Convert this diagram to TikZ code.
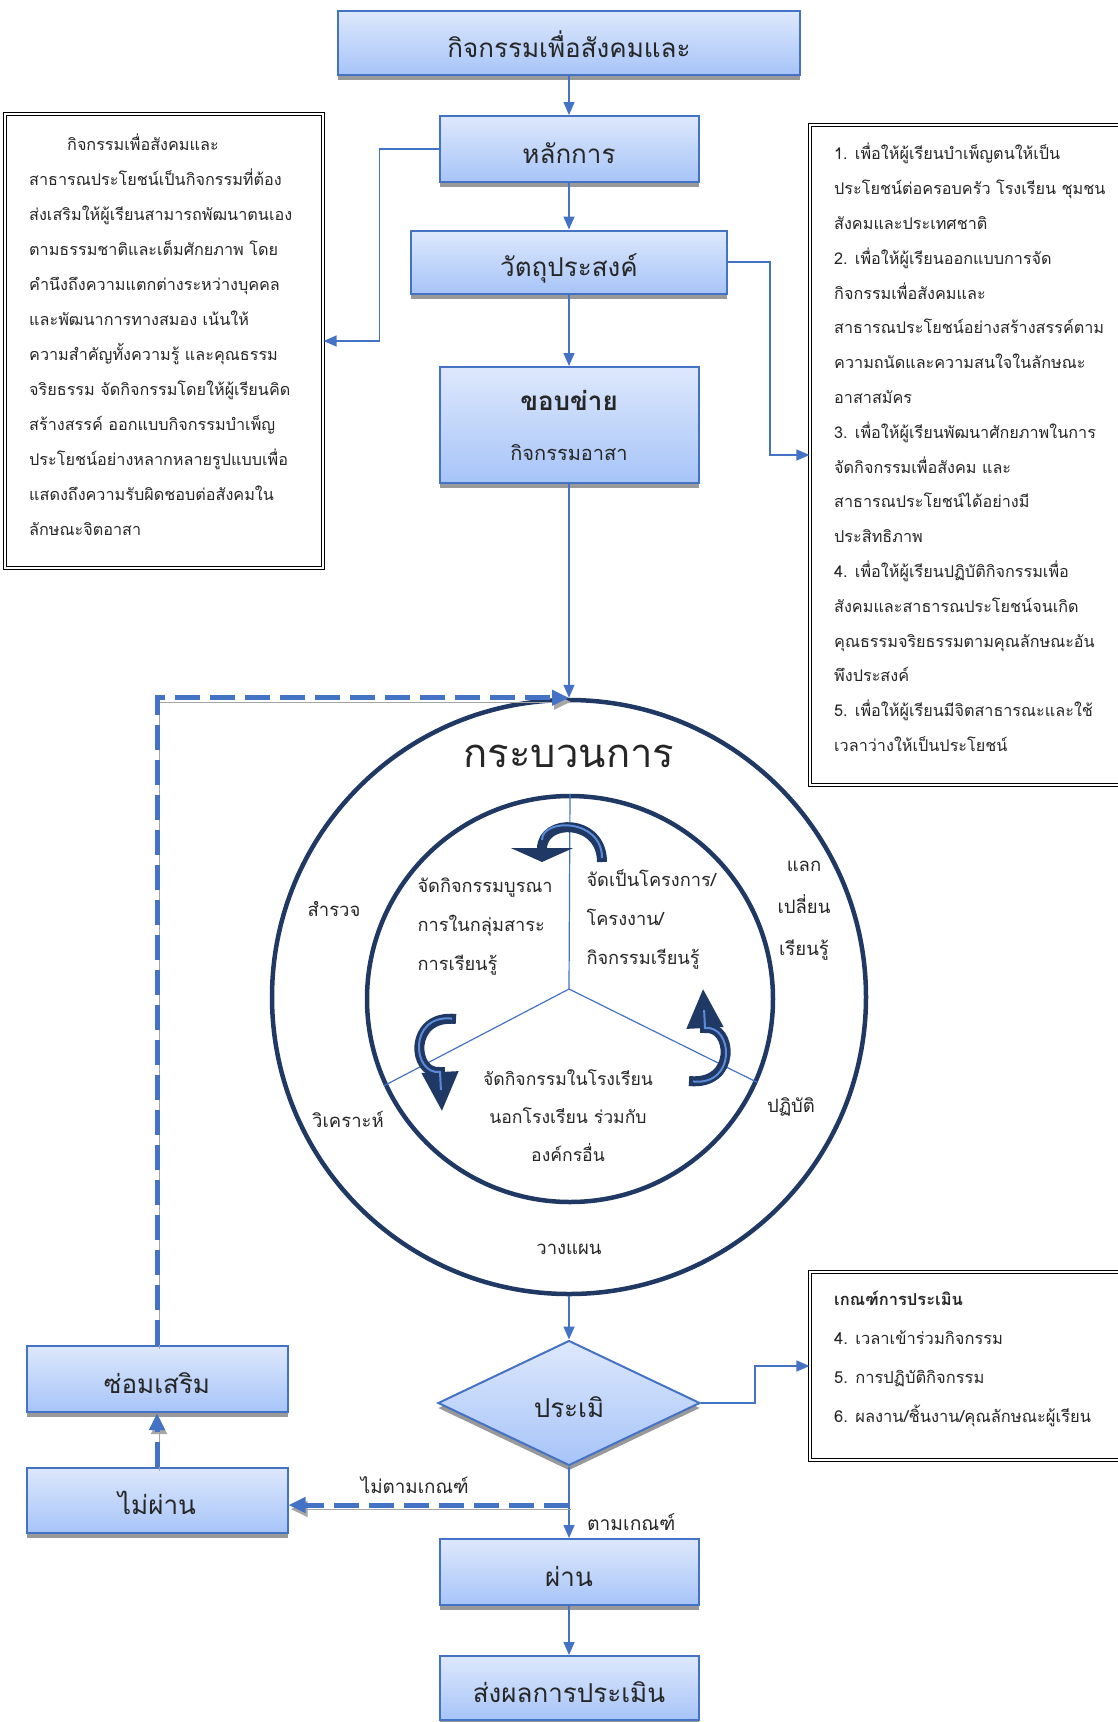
\documentclass[tikz,border=0pt]{standalone}
\usepackage{fontspec}
\setmainfont[Script=Thai]{Loma}
\usetikzlibrary{arrows.meta,shapes.geometric,shadows,positioning}

\definecolor{boxline}{HTML}{4472C4}
\definecolor{boxtop}{HTML}{DDE8FC}
\definecolor{boxbot}{HTML}{A7C4F8}
\definecolor{ring}{HTML}{1F3864}
\definecolor{shine}{HTML}{5B8BD9}

\tikzset{
  blockbox/.style={draw=boxline, line width=2pt, top color=boxtop, bottom color=boxbot,
    minimum width=259pt, minimum height=66pt, text=black!85,
    text height=29pt, text depth=0pt,
    font=\fontsize{26}{30}\selectfont,
    drop shadow={shadow xshift=0pt, shadow yshift=-5pt, fill=black!40, opacity=1}},
  notebox/.style={draw, double, double distance=2.5pt, line width=1.2pt},
  notetext/.style={anchor=north west, inner sep=0pt, align=left, text=black!85,
    font=\fontsize{16.2}{35}\selectfont},
  ringtext/.style={text=black!85, align=center, font=\fontsize{18.5}{42}\selectfont},
  coretext/.style={text=black!85, font=\fontsize{18.2}{39}\selectfont},
  flow/.style={draw=boxline, line width=1.5pt, -{Triangle[length=13pt,width=11pt]}},
  dashflow/.style={draw=boxline, line width=5pt, dash pattern=on 25pt off 10pt,
    -{Triangle[length=17pt,width=15pt]},
    preaction={draw=black!35, transform canvas={shift={(2pt,-4pt)}}}},
  spoke/.style={draw=boxline, line width=1.2pt},
  turnarrow/.style={draw=ring, line width=10pt,
    postaction={draw=shine, line width=2pt, -, shorten >=22pt, shorten <=4pt}}
}

\begin{document}
\begin{tikzpicture}[x=1pt,y=-1pt]
    \useasboundingbox (0,0) rectangle (1118,1722);

    % main column
    \node[blockbox, minimum width=462pt, minimum height=64pt] (head) at (569,43) {กิจกรรมเพื่อสังคมและ};
    \node[blockbox] (prin) at (569,149) {หลักการ};
    \node[blockbox, minimum width=316pt, minimum height=63pt] (obj) at (569,262) {วัตถุประสงค์};
    \node[blockbox, text height={}, text depth={}, minimum height=116pt, align=center] (scopebox) at (569,425)
        {\textbf{ขอบข่าย}\\[20pt]{\fontsize{20}{24}\selectfont กิจกรรมอาสา}};

    % side notes
    \node[notebox, minimum width=318pt, minimum height=454pt] (desc) at (164,341) {};
    \node[notetext] (desctext) at (29,134) {\hspace*{38pt}กิจกรรมเพื่อสังคมและ\\
        สาธารณประโยชน์เป็นกิจกรรมที่ต้อง\\
        ส่งเสริมให้ผู้เรียนสามารถพัฒนาตนเอง\\
        ตามธรรมชาติและเต็มศักยภาพ โดย\\
        คำนึงถึงความแตกต่างระหว่างบุคคล\\
        และพัฒนาการทางสมอง เน้นให้\\
        ความสำคัญทั้งความรู้ และคุณธรรม\\
        จริยธรรม จัดกิจกรรมโดยให้ผู้เรียนคิด\\
        สร้างสรรค์ ออกแบบกิจกรรมบำเพ็ญ\\
        ประโยชน์อย่างหลากหลายรูปแบบเพื่อ\\
        แสดงถึงความรับผิดชอบต่อสังคมใน\\
        ลักษณะจิตอาสา};

    \node[notebox, minimum width=312pt, minimum height=660pt] (aims) at (966,455) {};
    \node[notetext, font=\fontsize{16.2}{34.8}\selectfont] (aimstext) at (834,143) {1. เพื่อให้ผู้เรียนบำเพ็ญตนให้เป็น\\
        ประโยชน์ต่อครอบครัว โรงเรียน ชุมชน\\
        สังคมและประเทศชาติ\\
        2. เพื่อให้ผู้เรียนออกแบบการจัด\\
        กิจกรรมเพื่อสังคมและ\\
        สาธารณประโยชน์อย่างสร้างสรรค์ตาม\\
        ความถนัดและความสนใจในลักษณะ\\
        อาสาสมัคร\\
        3. เพื่อให้ผู้เรียนพัฒนาศักยภาพในการ\\
        จัดกิจกรรมเพื่อสังคม และ\\
        สาธารณประโยชน์ได้อย่างมี\\
        ประสิทธิภาพ\\
        4. เพื่อให้ผู้เรียนปฏิบัติกิจกรรมเพื่อ\\
        สังคมและสาธารณประโยชน์จนเกิด\\
        คุณธรรมจริยธรรมตามคุณลักษณะอัน\\
        พึงประสงค์\\
        5. เพื่อให้ผู้เรียนมีจิตสาธารณะและใช้\\
        เวลาว่างให้เป็นประโยชน์};

    % process circle
    \node[circle, draw=ring, line width=4.5pt, minimum size=594pt] (proc) at (569,997) {};
    \node[circle, draw=ring, line width=4.5pt, minimum size=406pt] (core) at (570,999) {};
    \node[text=black!85, font=\fontsize{40}{44}\selectfont] (proctitle) at (569,756) {กระบวนการ};

    \coordinate (hub) at (569,989);
    \draw[spoke] (hub) -- (core.north);
    \draw[spoke] (hub) -- (core.205);
    \draw[spoke] (hub) -- (core.336);

    \node[ringtext] (survey) at (334,909) {สำรวจ};
    \node[ringtext] (share) at (804,911) {แลก\\เปลี่ยน\\เรียนรู้};
    \node[ringtext] (analyse) at (348,1119) {วิเคราะห์};
    \node[ringtext] (practice) at (791,1107) {ปฏิบัติ};
    \node[ringtext] (plan) at (569,1249) {วางแผน};

    \node[coretext, anchor=west, align=left] (integ) at (414,927) {จัดกิจกรรมบูรณา\\การในกลุ่มสาระ\\การเรียนรู้};
    \node[coretext, anchor=west, align=left] (proj) at (583,919) {จัดเป็นโครงการ/\\โครงงาน/\\กิจกรรมเรียนรู้};
    \node[coretext, align=center, font=\fontsize{17.6}{38}\selectfont] (outside) at (568,1116) {จัดกิจกรรมในโรงเรียน\\นอกโรงเรียน ร่วมกับ\\องค์กรอื่น};

    % turning arrows
    \draw[turnarrow, -{Triangle[width=62pt,length=14pt]}] (602,862) .. controls (602,818) and (542,818) .. (542,862);
    \draw[turnarrow, -{Triangle[width=34pt,length=40pt]}] (456,1019) .. controls (408,1014) and (412,1075) .. (440,1072) -- (442,1112);
    \draw[turnarrow, -{Triangle[width=34pt,length=40pt]}] (689,1081) .. controls (737,1086) and (733,1025) .. (705,1028) -- (703,988);

    % evaluation
    \node[blockbox, diamond, minimum width=262pt, minimum height=125pt, inner sep=0pt] (eval) at (569,1403) {ประเมิ};
    \node[notebox, minimum width=312pt, minimum height=188pt] (crit) at (966,1366) {};
    \node[notetext, font=\fontsize{16.5}{39}\selectfont] (crittext) at (834,1291) {\textbf{เกณฑ์การประเมิน}\\
        4. เวลาเข้าร่วมกิจกรรม\\
        5. การปฏิบัติกิจกรรม\\
        6. ผลงาน/ชิ้นงาน/คุณลักษณะผู้เรียน};

    \node[blockbox] (pass) at (569,1572) {ผ่าน};
    \node[blockbox, minimum height=64pt] (report) at (569,1688) {ส่งผลการประเมิน};
    \node[blockbox, minimum width=261pt] (repair) at (157,1379) {ซ่อมเสริม};
    \node[blockbox, minimum width=261pt, minimum height=65pt] (fail) at (157,1500) {ไม่ผ่าน};

    % connectors
    \draw[flow] (head) -- (prin);
    \draw[flow] (prin) -- (obj);
    \draw[flow] (obj) -- (scopebox);
    \draw[flow] (scopebox) -- (proc.north);
    \draw[flow] (prin.west) -- ++(-59,0) |- (desc.east);
    \draw[flow] (obj.east) -- ++(42,0) |- (aims.west);
    \draw[flow] (proc.south) -- (eval.north);
    \draw[flow] (eval.east) -- ++(54,0) |- (crit.west);
    \draw[flow] (eval.south) -- node[pos=0.78, right=14pt, text=black!85, font=\fontsize{19.3}{24}\selectfont] (match) {ตามเกณฑ์} (pass.north);
    \draw[flow] (pass) -- (report);

    \coordinate (split) at (569,1505);
    \draw[dashflow] (split) -- node[above=6pt, pos=0.55, text=black!85, font=\fontsize{18.8}{24}\selectfont] (nomatch) {ไม่ตามเกณฑ์} (split -| fail.east);
    \draw[dashflow] (fail) -- (repair);
    \draw[dashflow] (repair.north) |- (proc.north);
\end{tikzpicture}
\end{document}
